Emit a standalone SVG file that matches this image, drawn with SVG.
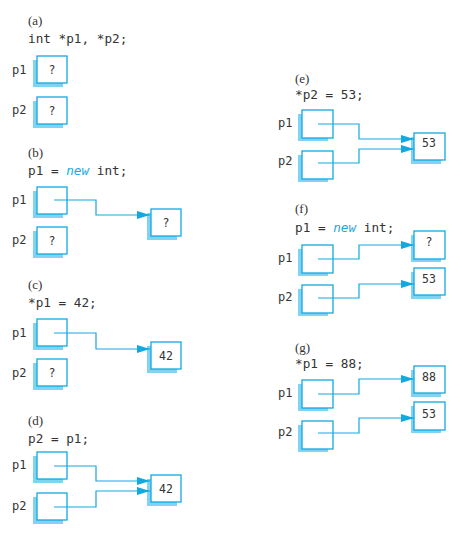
<svg xmlns="http://www.w3.org/2000/svg" width="462" height="534" viewBox="0 0 462 534">
<style>
.bg{fill:#ffffff}
.box{fill:#ffffff;stroke:#12a8e0;stroke-width:1.3}
.sh{fill:#80d3f3}
.cap{font-family:"Liberation Serif",serif;font-size:13px;fill:#333333}
.code{font-family:"DejaVu Sans Mono",monospace;font-size:12.7px;fill:#333333}
.kw{fill:#1aa7e0;font-style:italic}
.lbl{font-family:"DejaVu Sans Mono",monospace;font-size:12px;fill:#333333}
.val{font-family:"DejaVu Sans Mono",monospace;font-size:11.5px;fill:#333333;text-anchor:middle}
.ar{fill:none;stroke:#12a8e0;stroke-width:1.2;marker-end:url(#ah)}
</style>
<defs>
<marker id="ah" markerUnits="userSpaceOnUse" markerWidth="14" markerHeight="10" refX="13" refY="5" orient="auto">
<path d="M0,1 L13,5 L0,9 Z" fill="#12a8e0"/>
</marker>
</defs>
<rect class="bg" x="0" y="0" width="462" height="534"/>

<!-- (a) -->
<g id="panel-a">
<text class="cap" x="28" y="25">(a)</text>
<text class="code" x="28" y="43" xml:space="preserve">int *p1, *p2;</text>
</g>
<g id="a-p1"><text class="lbl" x="12" y="74">p1</text><rect class="sh" x="33" y="60" width="30" height="27"/><rect class="box" x="37" y="56" width="30" height="27"/><text class="val" x="52" y="74">?</text></g>
<g id="a-p2"><text class="lbl" x="12" y="114">p2</text><rect class="sh" x="33" y="101" width="30" height="27"/><rect class="box" x="37" y="97" width="30" height="27"/><text class="val" x="52" y="115">?</text></g>

<!-- (b) -->
<g id="panel-b">
<text class="cap" x="28" y="157">(b)</text>
<text class="code" x="28" y="175" xml:space="preserve">p1 = <tspan class="kw">new</tspan> int;</text>
</g>
<g id="b-p1"><text class="lbl" x="12" y="204">p1</text><rect class="sh" x="33" y="191" width="30" height="27"/><rect class="box" x="37" y="187" width="30" height="27"/></g>
<g id="b-p2"><text class="lbl" x="12" y="244">p2</text><rect class="sh" x="33" y="231" width="30" height="27"/><rect class="box" x="37" y="227" width="30" height="27"/><text class="val" x="52" y="245">?</text></g>
<g id="b-t"><rect class="sh" x="147" y="213" width="30" height="27"/><rect class="box" x="151" y="209" width="30" height="27"/><text class="val" x="166" y="227">?</text></g>

<!-- (c) -->
<g id="panel-c">
<text class="cap" x="28" y="289">(c)</text>
<text class="code" x="28" y="307" xml:space="preserve">*p1 = 42;</text>
</g>
<g id="c-p1"><text class="lbl" x="12" y="337">p1</text><rect class="sh" x="33" y="323" width="30" height="27"/><rect class="box" x="37" y="319" width="30" height="27"/></g>
<g id="c-p2"><text class="lbl" x="12" y="377">p2</text><rect class="sh" x="33" y="363" width="30" height="27"/><rect class="box" x="37" y="359" width="30" height="27"/><text class="val" x="52" y="377">?</text></g>
<g id="c-t"><rect class="sh" x="147" y="346" width="30" height="27"/><rect class="box" x="151" y="342" width="30" height="27"/><text class="val" x="166" y="360">42</text></g>

<!-- (d) -->
<g id="panel-d">
<text class="cap" x="28" y="425">(d)</text>
<text class="code" x="28" y="443" xml:space="preserve">p2 = p1;</text>
</g>
<g id="d-p1"><text class="lbl" x="12" y="469">p1</text><rect class="sh" x="33" y="456" width="30" height="27"/><rect class="box" x="37" y="452" width="30" height="27"/></g>
<g id="d-p2"><text class="lbl" x="12" y="510">p2</text><rect class="sh" x="33" y="497" width="30" height="27"/><rect class="box" x="37" y="493" width="30" height="27"/></g>
<g id="d-t"><rect class="sh" x="147" y="479" width="30" height="27"/><rect class="box" x="151" y="475" width="30" height="27"/><text class="val" x="166" y="493">42</text></g>

<!-- (e) -->
<g id="panel-e">
<text class="cap" x="295" y="83">(e)</text>
<text class="code" x="295" y="99" xml:space="preserve">*p2 = 53;</text>
</g>
<g id="e-p1"><text class="lbl" x="278" y="127">p1</text><rect class="sh" x="298" y="114" width="30" height="27"/><rect class="box" x="302" y="110" width="31" height="28"/></g>
<g id="e-p2"><text class="lbl" x="278" y="165">p2</text><rect class="sh" x="298" y="155" width="30" height="27"/><rect class="box" x="302" y="151" width="31" height="28"/></g>
<g id="e-t"><rect class="sh" x="411" y="137" width="30" height="27"/><rect class="box" x="414" y="133" width="31" height="27"/><text class="val" x="429" y="147">53</text></g>

<!-- (f) -->
<g id="panel-f">
<text class="cap" x="295" y="213">(f)</text>
<text class="code" x="295" y="232" xml:space="preserve">p1 = <tspan class="kw">new</tspan> int;</text>
</g>
<g id="f-p1"><text class="lbl" x="278" y="262">p1</text><rect class="sh" x="298" y="249" width="30" height="27"/><rect class="box" x="302" y="245" width="31" height="28"/></g>
<g id="f-p2"><text class="lbl" x="278" y="301">p2</text><rect class="sh" x="298" y="289" width="30" height="27"/><rect class="box" x="302" y="285" width="31" height="28"/></g>
<g id="f-t1"><rect class="sh" x="411" y="235" width="30" height="27"/><rect class="box" x="414" y="231" width="31" height="28"/><text class="val" x="429" y="246">?</text></g>
<g id="f-t2"><rect class="sh" x="411" y="272" width="30" height="27"/><rect class="box" x="414" y="268" width="31" height="27"/><text class="val" x="429" y="283">53</text></g>

<!-- (g) -->
<g id="panel-g">
<text class="cap" x="295" y="352">(g)</text>
<text class="code" x="295" y="368" xml:space="preserve">*p1 = 88;</text>
</g>
<g id="g-p1"><text class="lbl" x="278" y="397">p1</text><rect class="sh" x="298" y="384" width="30" height="27"/><rect class="box" x="302" y="380" width="31" height="28"/></g>
<g id="g-p2"><text class="lbl" x="278" y="436">p2</text><rect class="sh" x="298" y="425" width="30" height="27"/><rect class="box" x="302" y="421" width="31" height="28"/></g>
<g id="g-t1"><rect class="sh" x="411" y="370" width="30" height="27"/><rect class="box" x="414" y="366" width="31" height="27"/><text class="val" x="429" y="381">88</text></g>
<g id="g-t2"><rect class="sh" x="411" y="406" width="30" height="27"/><rect class="box" x="414" y="402" width="31" height="28"/><text class="val" x="429" y="418">53</text></g>

<g id="connectors">
<path class="ar" d="M54,200 H96 V215 H150"/>
<path class="ar" d="M54,333 H96 V349 H150"/>
<path class="ar" d="M54,466 H96 V481 H150"/>
<path class="ar" d="M54,507 H96 V491 H150"/>
<path class="ar" d="M318,124 H359 V139 H414"/>
<path class="ar" d="M318,163 H359 V149 H414"/>
<path class="ar" d="M318,259 H359 V245 H414"/>
<path class="ar" d="M318,298 H359 V284 H414"/>
<path class="ar" d="M318,394 H359 V379 H414"/>
<path class="ar" d="M318,433 H359 V418 H414"/>
</g>
</svg>
